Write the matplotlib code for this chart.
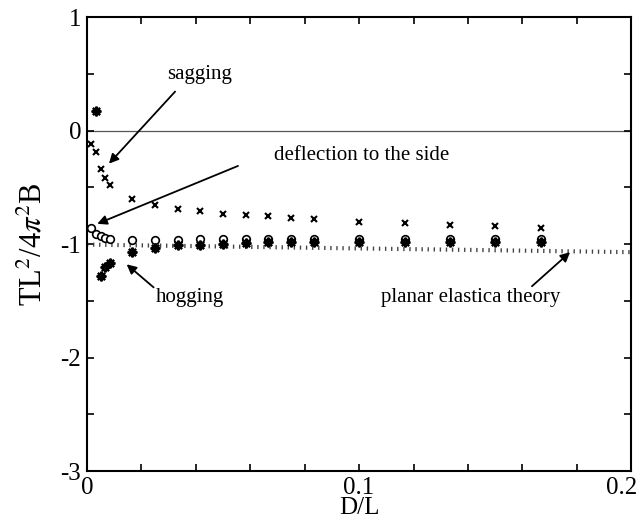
import numpy as np
import matplotlib
matplotlib.use("Agg")
import matplotlib.pyplot as plt
import matplotlib.transforms as mtransforms
from matplotlib.ticker import MultipleLocator

plt.rcParams['font.family'] = 'Liberation Serif'
plt.rcParams['mathtext.fontset'] = 'stix'

# D/L values at which the rod was measured
dl_fine = [0.00167, 0.00333, 0.005, 0.00667, 0.00833]
dl_coarse = [0.0167, 0.025, 0.0333, 0.0417, 0.05, 0.0583, 0.0667, 0.075,
             0.0833, 0.1, 0.1167, 0.1333, 0.15, 0.1667]

# sagging branch (crosses)
sag_x = dl_fine + dl_coarse
sag_y = [-0.12, -0.19, -0.34, -0.42, -0.48,
         -0.60, -0.655, -0.69, -0.71, -0.73, -0.74, -0.75, -0.765,
         -0.78, -0.80, -0.81, -0.83, -0.84, -0.855]

# deflection to the side (open circles)
side_x = dl_fine + dl_coarse
side_y = [-0.857, -0.91, -0.93, -0.945, -0.95,
          -0.96, -0.965, -0.96, -0.958, -0.955, -0.955, -0.955, -0.955,
          -0.955, -0.955, -0.957, -0.957, -0.957, -0.957]

# hogging branch (asterisks)
hog_x = [0.00333, 0.005, 0.00667, 0.00833] + dl_coarse
hog_y = [0.17, -1.28, -1.20, -1.165,
         -1.07, -1.036, -1.01, -1.003, -0.997, -0.988, -0.982, -0.982,
         -0.98, -0.976, -0.98, -0.98, -0.98, -0.98]

# planar elastica theory
theory_x = [0.0, 0.05, 0.1, 0.15, 0.2]
theory_y = [-1.003, -1.02, -1.037, -1.053, -1.07]

xticks = [0, 0.1, 0.2]
xtick_labels = ['0', '0.1', '0.2']
yticks = [-3, -2, -1, 0, 1]
ytick_labels = ['-3', '-2', '-1', '0', '1']

fig = plt.figure(figsize=(6.39, 5.23), dpi=100)
ax = fig.add_axes([0.136, 0.099, 0.852, 0.868])

ax.axhline(0, color='#555555', lw=0.9, zorder=1)
ax.plot(theory_x, theory_y, color='#444444', lw=3, ls=(0, (0.33, 1.13)),
        dash_capstyle='butt', zorder=2)

ax.plot(sag_x, sag_y, ls='none', marker='x', ms=5, mew=1.5, color='k', zorder=3)
ax.plot(side_x, side_y, ls='none', marker='o', ms=5.5, mew=1.2,
        mfc='white', mec='k', zorder=3)
ax.plot(hog_x, hog_y, ls='none', marker=(8, 2, 0), ms=7, mew=1.6,
        color='k', zorder=4)

ax.set_xlim(0, 0.2)
ax.set_ylim(-3, 1)
ax.set_xticks(xticks, xtick_labels)
ax.set_yticks(yticks, ytick_labels)
ax.xaxis.set_minor_locator(MultipleLocator(0.02))
ax.yaxis.set_minor_locator(MultipleLocator(0.5))
ax.tick_params(which='both', direction='in', top=True, right=True,
               length=5, width=1.2, labelsize=18, pad=4)
for s in ax.spines.values():
    s.set_linewidth(1.5)

# keep the last x tick label inside the figure
last = ax.get_xticklabels()[-1]
last.set_transform(last.get_transform() +
                   mtransforms.ScaledTranslation(-0.1, 0, fig.dpi_scale_trans))

ax.set_xlabel('D/L', fontsize=18, labelpad=-1)
ax.set_ylabel(r'TL$^2$/4$\pi^2$B', fontsize=22, labelpad=9)

arrow = dict(arrowstyle='-|>', color='k', lw=1.3, mutation_scale=14,
             shrinkA=0, shrinkB=0)
ax.text(0.0415, 0.50, 'sagging', fontsize=15, ha='center', va='center')
ax.annotate('', xy=(0.0081, -0.29), xytext=(0.0324, 0.345), arrowprops=arrow)
ax.text(0.101, -0.22, 'deflection to the side', fontsize=15,
        ha='center', va='center')
ax.annotate('', xy=(0.0038, -0.82), xytext=(0.0555, -0.31), arrowprops=arrow)
ax.text(0.038, -1.47, 'hogging', fontsize=15, ha='center', va='center')
ax.annotate('', xy=(0.0146, -1.177), xytext=(0.0245, -1.38), arrowprops=arrow)
ax.text(0.141, -1.47, 'planar elastica theory', fontsize=15,
        ha='center', va='center')
ax.annotate('', xy=(0.1775, -1.07), xytext=(0.1635, -1.37), arrowprops=arrow)

fig.savefig('out.png', dpi=100)
